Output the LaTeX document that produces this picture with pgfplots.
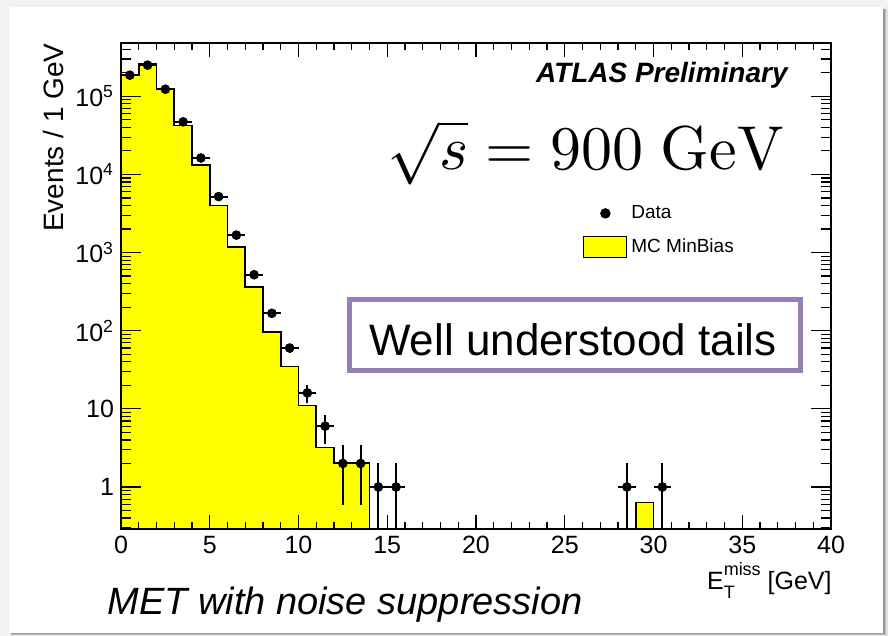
\documentclass[border=0pt]{standalone}
\usepackage[no-math]{fontspec}
\setmainfont{Liberation Sans}
\usepackage{graphicx}
\usepackage{pgfplots}
\usepackage{pgfplotstable}
\pgfplotsset{compat=1.18}
\definecolor{atlasyellow}{RGB}{255,255,0}
\definecolor{boxpurple}{RGB}{152,125,182}
\definecolor{bggray}{RGB}{242,242,242}

\pgfplotstableread{
x y ep em
0.5 186000 431 431
1.5 250000 500 500
2.5 123000 351 351
3.5 47000 217 217
4.5 16200 127 127
5.5 5200 72 72
6.5 1670 41 41
7.5 520 23 23
8.5 167 13 13
9.5 60 7.7 7.7
10.5 16 4 4
11.5 6 2.45 2.45
12.5 2 1.41 1.41
13.5 2 1.41 1.41
14.5 1 1 0.999
15.5 1 1 0.999
28.5 1 1 0.999
30.5 1 1 0.999
}\datatable

\pgfplotstableread{
x y
0 0.001
0 186000
1 260000
2 124000
3 42000
4 13300
5 4000
6 1170
7 360
8 97
9 35
10 11
11 3.2
12 2.0
13 2.0
14 2.0
14 0.001
}\mctable

\pgfplotstableread{
x y
29 0.001
29 0.63
30 0.63
30 0.001
}\mctail

\begin{document}
\begin{tikzpicture}
\begin{scope}[x=0.5pt,y=-0.5pt]
\useasboundingbox (0,0) rectangle (888,636);
\fill[bggray] (0,0) rectangle (888,636);
\fill[black!12] (11,9) rectangle (888,636);
\fill[black!25] (11,9) rectangle (886,635);
\fill[black!40] (11,9) rectangle (884.5,634);
\fill[white] (10,7) rectangle (883,633);
\end{scope}

\begin{axis}[
  at={(60.5pt,-264.5pt)}, anchor=south west,
  scale only axis, width=355pt, height=243pt,
  xmin=0, xmax=40, ymode=log, ymin=0.29, ymax=4.8e5,
  axis on top,
  axis line style={line width=0.8pt},
  tick align=inside,
  xtick={0,5,...,40},
  xticklabels={0,5,10,15,20,25,30,35,40},
  minor x tick num=4,
  ytick={1,10,100,1000,10000,100000},
  yticklabels={1,10,10\textsuperscript{2},10\textsuperscript{3},10\textsuperscript{4},10\textsuperscript{5}},
  minor ytick={0.3,0.4,0.5,0.6,0.7,0.8,0.9,2,3,4,5,6,7,8,9,20,30,40,50,60,70,80,90,200,300,400,500,600,700,800,900,2000,3000,4000,5000,6000,7000,8000,9000,20000,30000,40000,50000,60000,70000,80000,90000,200000,300000,400000},
  tick style={black, line width=0.6pt},
  major tick length=10pt, minor tick length=5pt,
  xtick style={/pgfplots/major tick length=7pt,/pgfplots/minor tick length=3.5pt},
  ticklabel style={font=\fontsize{12.5}{15}\selectfont},
  reverse legend,
  legend cell align=left,
  legend style={at={(0.6507,0.675)}, anchor=north west, draw=none, fill=none,
    inner sep=0pt, row sep=4.5pt,
    font=\fontsize{9.5}{11}\selectfont,
    /tikz/every even column/.append style={column sep=6.5pt}},
]
\addplot[const plot mark left, fill=atlasyellow, draw=black, line width=0.8pt,
  legend image code/.code={\draw[fill=atlasyellow, line width=0.5pt] (0pt,-5.25pt) rectangle (21.5pt,5.25pt);}]
  table[x=x,y=y] {\mctable};
\addlegendentry{MC MinBias}
\addplot[const plot mark left, fill=atlasyellow, draw=black, line width=0.8pt, forget plot]
  table[x=x,y=y] {\mctail};
\addplot[only marks, mark=*, mark size=2.2pt, black,
  legend image code/.code={\fill[black] (10.75pt,0pt) circle (2.4pt);},
  error bars/.cd, x dir=both, x fixed=0.5, y dir=both, y explicit,
  error mark=none, error bar style={line width=1pt, black}]
  table[x=x, y=y, y error plus=ep, y error minus=em] {\datatable};
\addlegendentry{Data}
\end{axis}

\begin{scope}[x=0.5pt,y=-0.5pt]
\node[anchor=base east, inner sep=0pt, font=\bfseries\itshape\fontsize{14}{16}\selectfont] at (788,83) {ATLAS Preliminary};
\node[anchor=base east, inner sep=0pt] at (785,170) {\scalebox{3.1}{$\sqrt{s} = 900\ \mathrm{GeV}$}};
\draw[boxpurple, line width=2.5pt, fill=white] (349.5,299.5) rectangle (800.5,370.5);
\node[anchor=base, inner sep=0pt, font=\fontsize{22}{26}\selectfont] at (573,355) {Well understood tails};
\node[anchor=base east, inner sep=0pt, font=\fontsize{12.5}{15}\selectfont] at (832,589)
  {E\rlap{\raisebox{-4.5pt}{\fontsize{9}{10}\selectfont T}}\raisebox{7pt}{\fontsize{9}{10}\selectfont miss} [GeV]};
\node[rotate=90, anchor=base east, inner sep=0pt, font=\fontsize{14}{16}\selectfont] at (63,43) {Events / 1 GeV};
\node[anchor=base west, inner sep=0pt, font=\itshape\fontsize{19}{22}\selectfont] at (107,614) {MET with noise suppression};
\end{scope}
\end{tikzpicture}
\end{document}
